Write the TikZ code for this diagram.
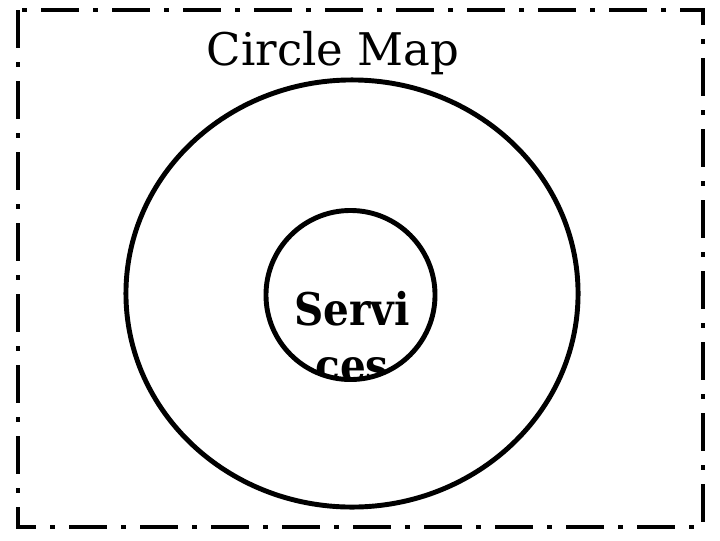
\documentclass[tikz,border=0pt]{standalone}
\usepackage{fontspec}
\setmainfont{DejaVu Serif}
\newfontfamily\coreface{DejaVu Serif Condensed}
\usetikzlibrary{positioning,shapes.geometric}

\begin{document}
\begin{tikzpicture}[
  x=0.025cm, y=-0.025cm,
  ring/.style={draw, line width=3.5pt, inner sep=0pt, outer sep=0pt},
  frame/.style={line width=3.5pt, dash pattern=on 27pt off 10pt on 3.5pt off 10pt},
  title/.style={font=\fontsize{32pt}{38pt}\selectfont, inner sep=0pt},
  core/.style={font=\coreface\bfseries\fontsize{32pt}{39.8pt}\selectfont, align=center, inner sep=0pt}
]
  \useasboundingbox (0,0) rectangle (720,540);

  % dash-dot frame
  \draw[frame] (18,10) rectangle (703,527);

  % title
  \node[title, anchor=base] (maptitle) at (333,65) {Circle Map};

  % outer ring
  \node[ring, ellipse, minimum width=11.3cm, minimum height=10.675cm] (frameofref) at (352,293.5) {};

  % inner ring, text cut at the ring
  \begin{scope}
    \clip (350.5,295) circle [radius=84.5];
    \node[core, anchor=base] (services) at (352,381) {Servi\\ces};
  \end{scope}
  \node[ring, circle, minimum size=4.225cm] (inner) at (350.5,295) {};
\end{tikzpicture}
\end{document}
